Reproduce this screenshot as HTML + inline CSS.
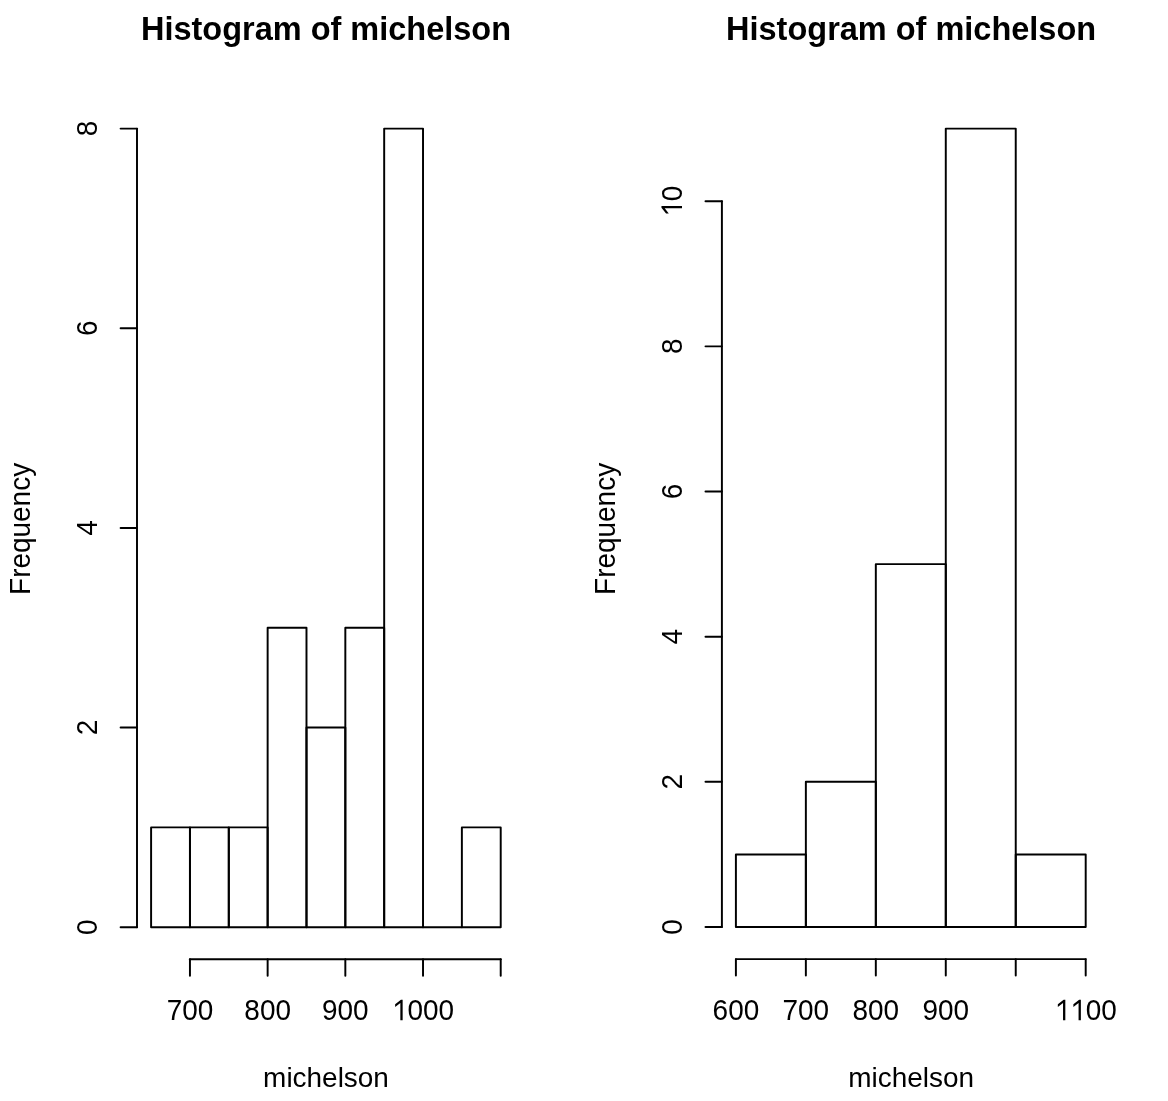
<!DOCTYPE html>
<html><head><meta charset="utf-8"><style>
html,body{margin:0;padding:0;background:#fff;overflow:hidden;}
svg{display:block;filter:grayscale(100%);}
text{font-family:"Liberation Sans",sans-serif;fill:#000;text-anchor:middle;}
.t{font-size:27.95px;}
.m{font-size:32.5px;font-weight:bold;}
path.g{fill:#000;stroke:none;}
line,polyline{stroke:#000;stroke-width:1.95;fill:none;stroke-linecap:round;stroke-linejoin:round;}
</style></head><body>
<svg width="1168" height="1101" viewBox="0 0 1168 1101">
<line x1="137.00" y1="927.20" x2="137.00" y2="128.60"/>
<line x1="120.60" y1="927.20" x2="137.00" y2="927.20"/>
<g transform="translate(97.00,927.20) rotate(-90) scale(1,1.045)"><text class="t" style="text-anchor:start" x="-7.77" y="0">0</text></g>
<line x1="120.60" y1="727.55" x2="137.00" y2="727.55"/>
<g transform="translate(97.00,727.55) rotate(-90) scale(1,1.045)"><text class="t" style="text-anchor:start" x="-7.77" y="0">2</text></g>
<line x1="120.60" y1="527.90" x2="137.00" y2="527.90"/>
<g transform="translate(97.00,527.90) rotate(-90) scale(1,1.045)"><text class="t" style="text-anchor:start" x="-7.77" y="0">4</text></g>
<line x1="120.60" y1="328.25" x2="137.00" y2="328.25"/>
<g transform="translate(97.00,328.25) rotate(-90) scale(1,1.045)"><text class="t" style="text-anchor:start" x="-7.77" y="0">6</text></g>
<line x1="120.60" y1="128.60" x2="137.00" y2="128.60"/>
<g transform="translate(97.00,128.60) rotate(-90) scale(1,1.045)"><text class="t" style="text-anchor:start" x="-7.77" y="0">8</text></g>
<line x1="189.95" y1="959.30" x2="500.71" y2="959.30"/>
<line x1="189.95" y1="959.30" x2="189.95" y2="975.70"/>
<line x1="267.64" y1="959.30" x2="267.64" y2="975.70"/>
<line x1="345.33" y1="959.30" x2="345.33" y2="975.70"/>
<line x1="423.02" y1="959.30" x2="423.02" y2="975.70"/>
<line x1="500.71" y1="959.30" x2="500.71" y2="975.70"/>
<g transform="translate(189.95,1020.30) scale(1,1.045)"><text class="t" style="text-anchor:start" x="-23.31" y="0">7</text><text class="t" style="text-anchor:start" x="-7.77" y="0">0</text><text class="t" style="text-anchor:start" x="7.77" y="0">0</text></g>
<g transform="translate(267.64,1020.30) scale(1,1.045)"><text class="t" style="text-anchor:start" x="-23.31" y="0">8</text><text class="t" style="text-anchor:start" x="-7.77" y="0">0</text><text class="t" style="text-anchor:start" x="7.77" y="0">0</text></g>
<g transform="translate(345.33,1020.30) scale(1,1.045)"><text class="t" style="text-anchor:start" x="-23.31" y="0">9</text><text class="t" style="text-anchor:start" x="-7.77" y="0">0</text><text class="t" style="text-anchor:start" x="7.77" y="0">0</text></g>
<g transform="translate(423.02,1020.30) scale(1,1.045)"><path class="g" transform="translate(-31.08,0) scale(0.02795,-0.02795)" d="M301 0L383 0L383 703L322 703L115 546L115 452L301 592Z"/><text class="t" style="text-anchor:start" x="-15.54" y="0">0</text><text class="t" style="text-anchor:start" x="0.00" y="0">0</text><text class="t" style="text-anchor:start" x="15.54" y="0">0</text></g>
<polyline points="151.10,927.20 189.95,927.20 189.95,827.38 151.10,827.38 151.10,927.20"/>
<polyline points="189.95,927.20 228.79,927.20 228.79,827.38 189.95,827.38 189.95,927.20"/>
<polyline points="228.79,927.20 267.64,927.20 267.64,827.38 228.79,827.38 228.79,927.20"/>
<polyline points="267.64,927.20 306.49,927.20 306.49,627.73 267.64,627.73 267.64,927.20"/>
<polyline points="306.49,927.20 345.33,927.20 345.33,727.55 306.49,727.55 306.49,927.20"/>
<polyline points="345.33,927.20 384.18,927.20 384.18,627.73 345.33,627.73 345.33,927.20"/>
<polyline points="384.18,927.20 423.02,927.20 423.02,128.60 384.18,128.60 384.18,927.20"/>
<line x1="423.02" y1="927.20" x2="461.87" y2="927.20"/>
<polyline points="461.87,927.20 500.71,927.20 500.71,827.38 461.87,827.38 461.87,927.20"/>
<text class="m" transform="translate(326.00,39.70) scale(1,1.015)">Histogram of michelson</text>
<text class="t" transform="translate(326.00,1086.50) scale(1,1.0)">michelson</text>
<text class="t" transform="translate(30.20,528.90) rotate(-90) scale(1,1.045)">Frequency</text>
<line x1="721.90" y1="927.00" x2="721.90" y2="201.20"/>
<line x1="705.50" y1="927.00" x2="721.90" y2="927.00"/>
<g transform="translate(682.00,927.00) rotate(-90) scale(1,1.045)"><text class="t" style="text-anchor:start" x="-7.77" y="0">0</text></g>
<line x1="705.50" y1="781.84" x2="721.90" y2="781.84"/>
<g transform="translate(682.00,781.84) rotate(-90) scale(1,1.045)"><text class="t" style="text-anchor:start" x="-7.77" y="0">2</text></g>
<line x1="705.50" y1="636.68" x2="721.90" y2="636.68"/>
<g transform="translate(682.00,636.68) rotate(-90) scale(1,1.045)"><text class="t" style="text-anchor:start" x="-7.77" y="0">4</text></g>
<line x1="705.50" y1="491.52" x2="721.90" y2="491.52"/>
<g transform="translate(682.00,491.52) rotate(-90) scale(1,1.045)"><text class="t" style="text-anchor:start" x="-7.77" y="0">6</text></g>
<line x1="705.50" y1="346.36" x2="721.90" y2="346.36"/>
<g transform="translate(682.00,346.36) rotate(-90) scale(1,1.045)"><text class="t" style="text-anchor:start" x="-7.77" y="0">8</text></g>
<line x1="705.50" y1="201.20" x2="721.90" y2="201.20"/>
<g transform="translate(682.00,201.20) rotate(-90) scale(1,1.045)"><path class="g" transform="translate(-15.54,0) scale(0.02795,-0.02795)" d="M301 0L383 0L383 703L322 703L115 546L115 452L301 592Z"/><text class="t" style="text-anchor:start" x="0.00" y="0">0</text></g>
<line x1="735.90" y1="959.10" x2="1085.70" y2="959.10"/>
<line x1="735.90" y1="959.10" x2="735.90" y2="975.50"/>
<line x1="805.86" y1="959.10" x2="805.86" y2="975.50"/>
<line x1="875.82" y1="959.10" x2="875.82" y2="975.50"/>
<line x1="945.78" y1="959.10" x2="945.78" y2="975.50"/>
<line x1="1015.74" y1="959.10" x2="1015.74" y2="975.50"/>
<line x1="1085.70" y1="959.10" x2="1085.70" y2="975.50"/>
<g transform="translate(735.90,1020.30) scale(1,1.045)"><text class="t" style="text-anchor:start" x="-23.31" y="0">6</text><text class="t" style="text-anchor:start" x="-7.77" y="0">0</text><text class="t" style="text-anchor:start" x="7.77" y="0">0</text></g>
<g transform="translate(805.86,1020.30) scale(1,1.045)"><text class="t" style="text-anchor:start" x="-23.31" y="0">7</text><text class="t" style="text-anchor:start" x="-7.77" y="0">0</text><text class="t" style="text-anchor:start" x="7.77" y="0">0</text></g>
<g transform="translate(875.82,1020.30) scale(1,1.045)"><text class="t" style="text-anchor:start" x="-23.31" y="0">8</text><text class="t" style="text-anchor:start" x="-7.77" y="0">0</text><text class="t" style="text-anchor:start" x="7.77" y="0">0</text></g>
<g transform="translate(945.78,1020.30) scale(1,1.045)"><text class="t" style="text-anchor:start" x="-23.31" y="0">9</text><text class="t" style="text-anchor:start" x="-7.77" y="0">0</text><text class="t" style="text-anchor:start" x="7.77" y="0">0</text></g>
<g transform="translate(1085.70,1020.30) scale(1,1.045)"><path class="g" transform="translate(-31.08,0) scale(0.02795,-0.02795)" d="M301 0L383 0L383 703L322 703L115 546L115 452L301 592Z"/><path class="g" transform="translate(-15.54,0) scale(0.02795,-0.02795)" d="M301 0L383 0L383 703L322 703L115 546L115 452L301 592Z"/><text class="t" style="text-anchor:start" x="0.00" y="0">0</text><text class="t" style="text-anchor:start" x="15.54" y="0">0</text></g>
<polyline points="735.90,927.00 805.86,927.00 805.86,854.42 735.90,854.42 735.90,927.00"/>
<polyline points="805.86,927.00 875.82,927.00 875.82,781.84 805.86,781.84 805.86,927.00"/>
<polyline points="875.82,927.00 945.78,927.00 945.78,564.10 875.82,564.10 875.82,927.00"/>
<polyline points="945.78,927.00 1015.74,927.00 1015.74,128.62 945.78,128.62 945.78,927.00"/>
<polyline points="1015.74,927.00 1085.70,927.00 1085.70,854.42 1015.74,854.42 1015.74,927.00"/>
<text class="m" transform="translate(911.10,39.70) scale(1,1.015)">Histogram of michelson</text>
<text class="t" transform="translate(911.10,1086.50) scale(1,1.0)">michelson</text>
<text class="t" transform="translate(614.90,528.90) rotate(-90) scale(1,1.045)">Frequency</text>
</svg></body></html>
